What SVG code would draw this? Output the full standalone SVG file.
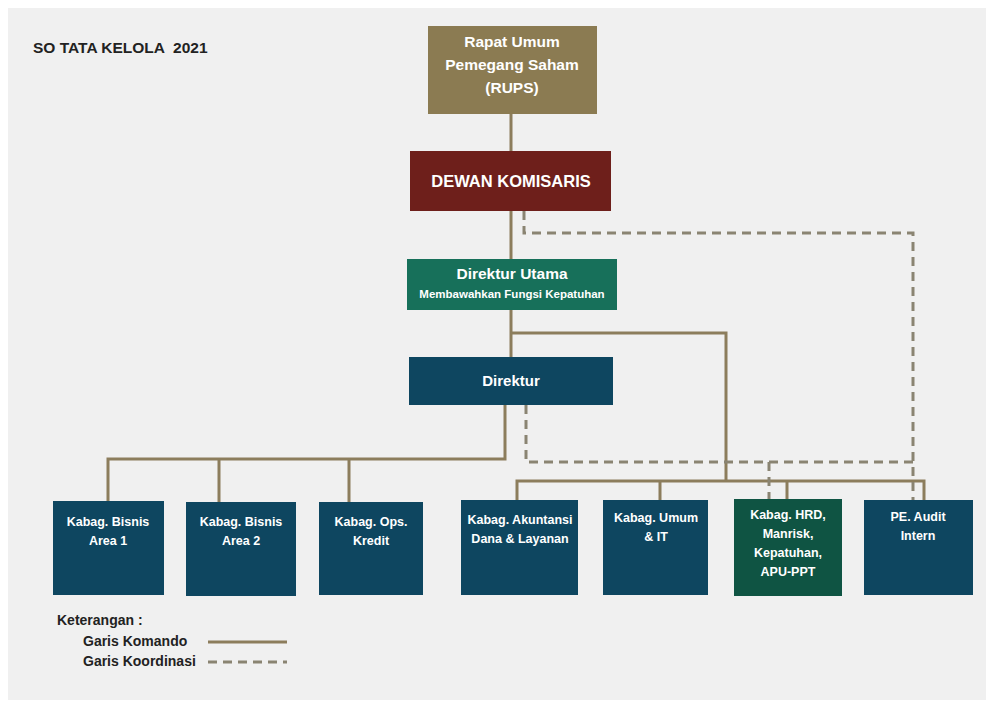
<svg xmlns="http://www.w3.org/2000/svg" width="993" height="702" viewBox="0 0 993 702">
<style>
text{font-family:"Liberation Sans",Arial,sans-serif;font-weight:bold;fill:#ffffff;text-anchor:middle}
.t{fill:#222222;text-anchor:start}
.cmd{fill:none;stroke:#8C7D5C;stroke-width:3}
.crd{fill:none;stroke:#8A8472;stroke-width:3;stroke-dasharray:9 6}
.n{font-size:12.5px}
</style>
<rect x="0" y="0" width="993" height="702" fill="#ffffff"/>
<rect x="8" y="8" width="978" height="692" fill="#F0F0F0"/>
<text class="t" x="33" y="53" font-size="15.5" xml:space="preserve" style="white-space:pre">SO TATA KELOLA  2021</text>

<g id="connectors">
<path class="cmd" d="M511 114V151M511 211V259M511 310V357M511 333H726V481"/>
<path class="cmd" d="M505 405V459H108V501M219 459V502M349 459V502"/>
<path class="cmd" d="M517 500V481H924V500M660 481V500M787 481V499"/>
<path class="crd" d="M524 211V233H913V500"/>
<path class="crd" d="M526 405V462H913M769 462V499"/>
</g>

<g id="rups"><rect x="428" y="26" width="169" height="88" fill="#8B7B52"/>
<text x="512" y="47" font-size="15.5">Rapat Umum</text>
<text x="512" y="70" font-size="15.5">Pemegang Saham</text>
<text x="512" y="93" font-size="15.5">(RUPS)</text></g>

<g id="dewan"><rect x="410" y="151" width="201" height="60" fill="#6E1F1B"/>
<text x="511" y="187" font-size="16.5">DEWAN KOMISARIS</text></g>

<g id="dirut"><rect x="407" y="259" width="210" height="51" fill="#17705A"/>
<text x="512" y="279" font-size="15.5">Direktur Utama</text>
<text x="512" y="298" font-size="11.5">Membawahkan Fungsi Kepatuhan</text></g>

<g id="direktur"><rect x="409" y="357" width="204" height="48" fill="#0E4660"/>
<text x="511" y="386" font-size="15">Direktur</text></g>

<g id="bisnis1"><rect x="53" y="501" width="111" height="94" fill="#0E4660"/>
<text class="n" x="108" y="526">Kabag. Bisnis</text><text class="n" x="108" y="545">Area 1</text></g>
<g id="bisnis2"><rect x="186" y="502" width="110" height="94" fill="#0E4660"/>
<text class="n" x="241" y="526">Kabag. Bisnis</text><text class="n" x="241" y="545">Area 2</text></g>
<g id="ops"><rect x="319" y="502" width="104" height="93" fill="#0E4660"/>
<text class="n" x="371" y="526">Kabag. Ops.</text><text class="n" x="371" y="545">Kredit</text></g>
<g id="akuntansi"><rect x="461" y="500" width="117" height="95" fill="#0E4660"/>
<text class="n" x="520" y="524" font-size="12">Kabag. Akuntansi</text><text class="n" x="520" y="543" font-size="12">Dana &amp; Layanan</text></g>
<g id="umum"><rect x="603" y="500" width="105" height="95" fill="#0E4660"/>
<text class="n" x="656" y="522">Kabag. Umum</text><text class="n" x="656" y="541">&amp; IT</text></g>
<g id="hrd"><rect x="734" y="499" width="108" height="97" fill="#0F5443"/>
<text class="n" x="788" y="519">Kabag. HRD,</text><text class="n" x="788" y="538">Manrisk,</text><text class="n" x="788" y="557">Kepatuhan,</text><text class="n" x="788" y="576">APU-PPT</text></g>
<g id="audit"><rect x="864" y="500" width="109" height="95" fill="#0E4660"/>
<text class="n" x="918" y="521">PE. Audit</text><text class="n" x="918" y="540">Intern</text></g>

<g id="legend">
<text class="t" x="57" y="625" font-size="14">Keterangan :</text>
<text class="t" x="83" y="646" font-size="14">Garis Komando</text>
<text class="t" x="83" y="666" font-size="14">Garis Koordinasi</text>
<line class="cmd" x1="208" y1="642" x2="287" y2="642"/>
<line class="crd" x1="208" y1="662" x2="287" y2="662"/>
</g>
</svg>
